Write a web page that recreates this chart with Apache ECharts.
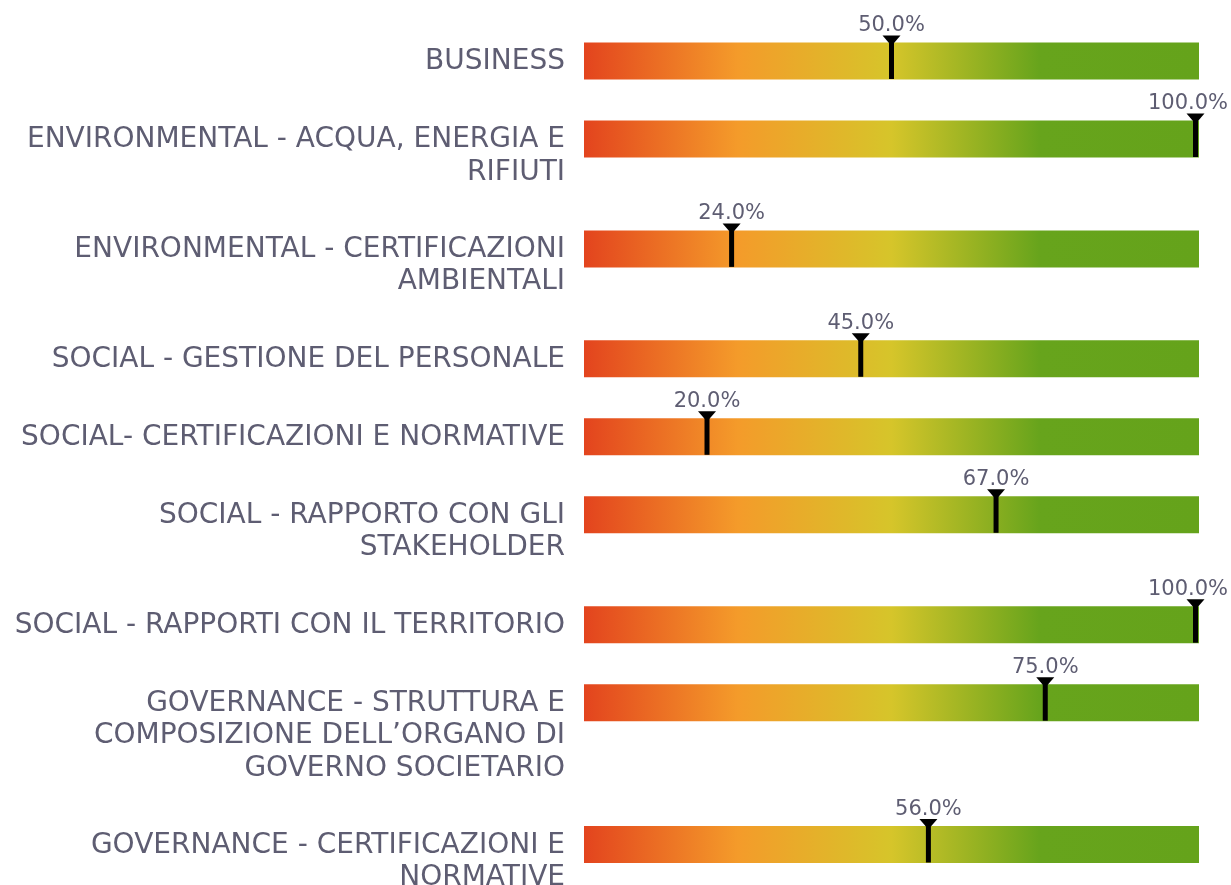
<!DOCTYPE html>
<html>
<head>
<meta charset="utf-8">
<script src="https://cdn.jsdelivr.net/npm/echarts@6/dist/echarts.min.js"></script>
<style>
  html, body { margin: 0; padding: 0; background: #ffffff; }
  #chart { width: 1231px; height: 885px; }
</style>
</head>
<body>
<div id="chart"></div>
<script>
const categories = [
  'BUSINESS',
  'ENVIRONMENTAL - ACQUA, ENERGIA E\nRIFIUTI',
  'ENVIRONMENTAL - CERTIFICAZIONI\nAMBIENTALI',
  'SOCIAL - GESTIONE DEL PERSONALE',
  'SOCIAL- CERTIFICAZIONI E NORMATIVE',
  'SOCIAL - RAPPORTO CON GLI\nSTAKEHOLDER',
  'SOCIAL - RAPPORTI CON IL TERRITORIO',
  'GOVERNANCE - STRUTTURA E\nCOMPOSIZIONE DELL\u2019ORGANO DI\nGOVERNO SOCIETARIO',
  'GOVERNANCE - CERTIFICAZIONI E\nNORMATIVE'
];
const values = [50, 100, 24, 45, 20, 67, 100, 75, 56];

// layout: rows grow with the number of label lines
const FIRST_CENTER = 61, ROW_BASE = 78, LINE_H = 31.9, BAR_H = 37;
const rowCenters = [];
let cy = FIRST_CENTER;
categories.forEach((c, i) => {
  rowCenters.push(cy);
  cy += ROW_BASE + LINE_H * (c.split('\n').length - 1);
});

const TEXT_COLOR = '#5e5d72';
const FONT = '"DejaVu Sans", sans-serif';
const VALUE_FONT = '21px ' + FONT;

const measureCtx = document.createElement('canvas').getContext('2d');
measureCtx.font = VALUE_FONT;

const chart = echarts.init(document.getElementById('chart'), null, { renderer: 'canvas' });

const gradientStops = [
  { offset: 0, color: '#e3441e' },
  { offset: 0.25, color: '#f49b2a' },
  { offset: 0.5, color: '#d6c52a' },
  { offset: 0.74, color: '#67a41c' },
  { offset: 1, color: '#65a31b' }
];

function renderItem(params, api) {
  const v = api.value(0);
  const c = api.value(1);
  const idx = api.value(2);
  const p0 = api.coord([0, c]);
  const p1 = api.coord([100, c]);
  const pv = api.coord([v, c]);
  const x0 = p0[0], x1 = p1[0], y = p0[1];
  let mx = pv[0];
  mx = Math.min(Math.max(mx, x0 + 3), x1 - 3.5);
  const half = BAR_H / 2;
  const label = v.toFixed(1) + '%';
  const tw = measureCtx.measureText(label).width;
  const tx = Math.min(mx, api.getWidth() - 3 - tw / 2);
  return {
    type: 'group',
    children: [
      {
        type: 'rect',
        shape: { x: x0, y: y - half, width: x1 - x0, height: BAR_H },
        style: { fill: new echarts.graphic.LinearGradient(0, 0, 1, 0, gradientStops) }
      },
      {
        type: 'rect',
        shape: { x: mx - 2.5, y: y - half - 1, width: 5, height: BAR_H + 0.5 },
        style: { fill: '#000000' }
      },
      {
        type: 'polygon',
        shape: { points: [[mx - 9, y - 25.5], [mx + 9, y - 25.5], [mx + 2.5, y - 18], [mx - 2.5, y - 18]] },
        style: { fill: '#000000' }
      },
      {
        type: 'text',
        style: {
          x: tx, y: y - 35,
          text: label,
          align: 'center', verticalAlign: 'middle',
          fill: TEXT_COLOR, font: VALUE_FONT
        }
      },
      {
        type: 'text',
        style: {
          x: x0 - 19, y: y - 15.5,
          text: categories[idx],
          align: 'right', verticalAlign: 'top',
          lineHeight: 32.5,
          fill: TEXT_COLOR, font: '28px ' + FONT
        }
      }
    ]
  };
}

chart.setOption({
  animation: false,
  grid: { left: 584, right: 32, top: 0, bottom: 0 },
  xAxis: { type: 'value', min: 0, max: 100, show: false },
  yAxis: { type: 'value', min: 0, max: 885, inverse: true, show: false },
  series: [{
    type: 'custom',
    renderItem: renderItem,
    clip: false,
    data: values.map((v, i) => [v, rowCenters[i], i])
  }]
});
</script>
</body>
</html>
